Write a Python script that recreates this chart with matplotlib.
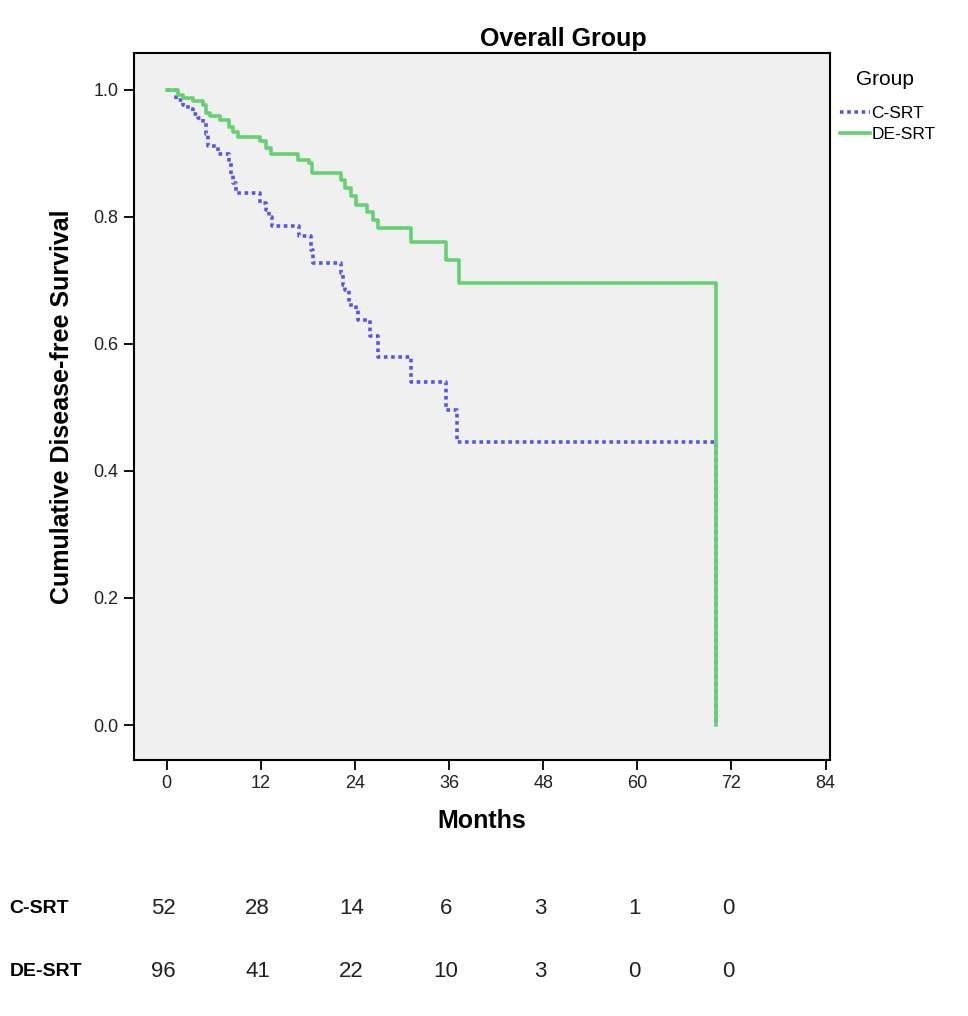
import numpy as np
import matplotlib
matplotlib.use("Agg")
import matplotlib.pyplot as plt
from matplotlib.transforms import blended_transform_factory

plt.rcParams['font.family'] = ['Liberation Sans', 'DejaVu Sans']

# Kaplan-Meier steps (month, survival)
c_months = [0, 1.2, 2.1, 2.7, 3.35, 4.0, 4.6, 5.05, 5.3, 6.55, 8.0, 8.2, 8.45, 8.9,
            11.85, 12.7, 13.1, 13.5, 16.9, 18.4, 18.7, 22.25, 22.5, 22.7, 23.3,
            24.2, 24.4, 25.9, 26.9, 31.2, 35.6, 37.0, 70.0]
c_surv = [1.0, 0.984, 0.976, 0.969, 0.962, 0.955, 0.948, 0.930, 0.911, 0.898, 0.885,
          0.866, 0.853, 0.837, 0.822, 0.811, 0.800, 0.785, 0.769, 0.748, 0.727,
          0.711, 0.693, 0.685, 0.661, 0.654, 0.638, 0.612, 0.580, 0.540, 0.496,
          0.446, 0.0]

de_months = [0, 1.45, 2.1, 3.35, 4.6, 5.05, 5.5, 6.75, 8.0, 8.45, 9.1, 11.85, 12.7,
             13.3, 16.7, 18.2, 18.6, 22.25, 22.7, 23.5, 24.2, 25.6, 26.3, 26.9,
             31.2, 35.6, 37.3, 70.0]
de_surv = [1.0, 0.992, 0.987, 0.982, 0.976, 0.963, 0.958, 0.953, 0.942, 0.934, 0.926,
           0.919, 0.908, 0.899, 0.890, 0.885, 0.869, 0.858, 0.845, 0.832, 0.819,
           0.808, 0.795, 0.782, 0.761, 0.732, 0.696, 0.0]

groups = ['C-SRT', 'DE-SRT']
risk_times = [0, 12, 24, 36, 48, 60, 72]
risk_c = [52, 28, 14, 6, 3, 1, 0]
risk_de = [96, 41, 22, 10, 3, 0, 0]

fig = plt.figure(figsize=(9.68, 10.16), dpi=100)
ax = fig.add_axes([0.138, 0.252, 0.719, 0.696])
ax.set_facecolor('#f0f0f0')

ax.plot(c_months, c_surv, drawstyle='steps-post', color='#5555ee', lw=2.6,
        linestyle=(0, (1, 1)), label=groups[0])
ax.plot(de_months, de_surv, drawstyle='steps-post', color='#66d173', lw=2.6,
        label=groups[1], zorder=3)

ax.set_xlim(-4.2, 84.5)
ax.set_ylim(-0.055, 1.058)
ax.set_xticks(range(0, 85, 12))
ax.set_yticks([0.0, 0.2, 0.4, 0.6, 0.8, 1.0])
ax.set_yticklabels(['0.0', '0.2', '0.4', '0.6', '0.8', '1.0'])
ax.tick_params(direction='out', length=7, width=1.3, labelsize=13, pad=4,
               labelcolor='#222222')
for s in ax.spines.values():
    s.set_linewidth(1.5)

ax.set_xlabel('Months', fontsize=18, fontweight='bold', labelpad=12)
ax.set_ylabel('Cumulative Disease-free Survival', fontsize=18, fontweight='bold',
              labelpad=14)
fig.text(0.582, 0.962, 'Overall Group', fontsize=18, fontweight='bold', ha='center',
         va='center')

leg = ax.legend(loc='upper left', bbox_to_anchor=(1.005, 0.985), frameon=False,
                title='Group', fontsize=12.5, title_fontsize=15, handlelength=1.7,
                handletextpad=0.1, borderaxespad=0, labelspacing=0.32)
leg._legend_box.align = 'left'
leg._legend_box.sep = 12
leg.get_title().set_position((16, 0))

# number at risk table
tr = blended_transform_factory(ax.transData, fig.transFigure)
for label, vals, y in [(groups[0], risk_c, 0.106), (groups[1], risk_de, 0.044)]:
    fig.text(0.01, y, label, fontsize=14, fontweight='bold', va='center')
    for t, v in zip(risk_times, vals):
        ax.text(t - 0.4, y, str(v), transform=tr, fontsize=16, ha='center',
                va='center', clip_on=False, color='#222222')

fig.savefig('out.png', dpi=100)
